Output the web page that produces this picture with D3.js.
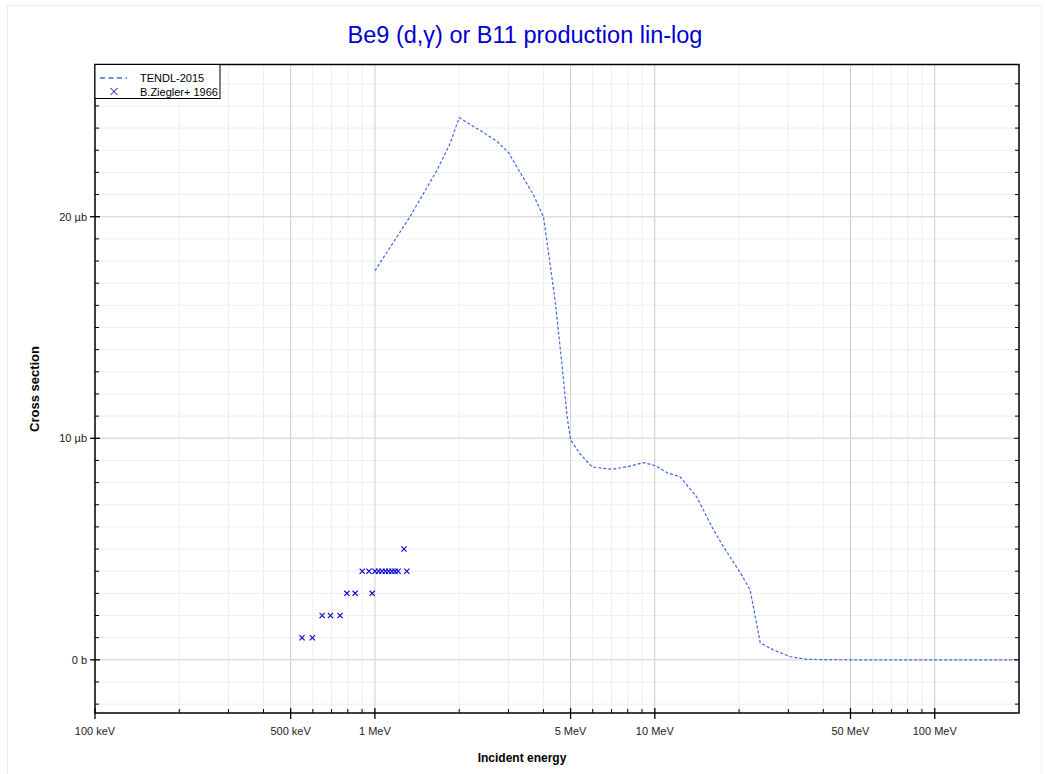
<!DOCTYPE html>
<html>
<head>
<meta charset="utf-8">
<script src="https://d3js.org/d3.v7.min.js"></script>
<style>
  body { margin: 0; background: #fff; font-family: "Liberation Sans", Arial, sans-serif; }
</style>
</head>
<body>
<script>
// TENDL-2015 evaluation, energy in MeV, cross section in microbarn
var tendlE = [1.0, 1.2, 1.334, 1.667, 1.855, 2.0, 2.44, 2.73, 3.0, 3.3, 3.68, 4.0,
              4.2, 4.4, 4.67, 4.86, 5.0, 5.4, 5.98, 7.05, 8.0, 9.1, 10.05, 11.1, 12.3,
              14.1, 16.2, 17.6, 20.2, 21.9, 23.8, 26.5, 30.5, 35, 50, 100, 200];
var tendlS = [17.56, 19.1, 20.0, 22.1, 23.3, 24.47, 23.8, 23.4, 22.9, 22.0, 21.0, 20.0,
              18.1, 16.25, 13.2, 10.97, 9.93, 9.3, 8.7, 8.6, 8.72, 8.9, 8.76, 8.44, 8.26,
              7.36, 5.87, 5.1, 3.93, 3.16, 0.77, 0.45, 0.14, 0.02, 0, 0, 0];

// B.Ziegler+ 1966 measurements
var expE = [0.549, 0.598, 0.648, 0.694, 0.751, 0.794, 0.850, 0.978, 0.901, 0.952,
            1.0, 1.03, 1.06, 1.09, 1.12, 1.15, 1.18, 1.21, 1.30, 1.27];
var expS = [1, 1, 2, 2, 2, 3, 3, 3, 4, 4,
            4, 4, 4, 4, 4, 4, 4, 4, 4, 5];

var xTickVals = [0.1, 0.5, 1, 5, 10, 50, 100];
var xTickText = ["100 keV", "500 keV", "1 MeV", "5 MeV", "10 MeV", "50 MeV", "100 MeV"];
var yTickVals = [0, 10, 20];
var yTickText = ["0 b", "10 µb", "20 µb"];

var W = 1045, H = 774;
var m = {left: 95, right: 1019, top: 64.5, bottom: 713};

var svg = d3.select("body").append("svg").attr("width", W).attr("height", H);

// outer frame
svg.append("rect").attr("x", 7.5).attr("y", 5.5).attr("width", 1034).attr("height", 780)
  .attr("fill", "none").attr("stroke", "#eeeeee").attr("stroke-width", 1);

var x = d3.scaleLog().domain([0.1, 200]).range([m.left, m.right]);
var y = d3.scaleLinear().domain([-2.4, 26.87]).range([m.bottom, m.top]);

// minor grid
var minorX = [];
[0.1, 1, 10, 100].forEach(function (d) {
  for (var k = 2; k <= 9; k++) { if (d * k < 200 && k !== 5) minorX.push(d * k); }
});
var minorY = d3.range(-2, 27, 1).filter(function (d) { return d % 10 !== 0; });

var grid = svg.append("g");
grid.selectAll(".mx").data(minorX).enter().append("line")
  .attr("x1", function (d) { return x(d); }).attr("x2", function (d) { return x(d); })
  .attr("y1", m.top).attr("y2", m.bottom).attr("stroke", "#eeeeee").attr("stroke-width", 1);
grid.selectAll(".my").data(minorY).enter().append("line")
  .attr("y1", function (d) { return y(d); }).attr("y2", function (d) { return y(d); })
  .attr("x1", m.left).attr("x2", m.right).attr("stroke", "#eeeeee").attr("stroke-width", 1);
grid.selectAll(".Mx").data(xTickVals.slice(1)).enter().append("line")
  .attr("x1", function (d) { return x(d); }).attr("x2", function (d) { return x(d); })
  .attr("y1", m.top).attr("y2", m.bottom).attr("stroke", "#cccccc").attr("stroke-width", 1);
grid.selectAll(".My").data(yTickVals).enter().append("line")
  .attr("y1", function (d) { return y(d); }).attr("y2", function (d) { return y(d); })
  .attr("x1", m.left).attr("x2", m.right).attr("stroke", "#dddddd").attr("stroke-width", 1.5);

// data: TENDL curve
var line = d3.line().x(function (d) { return x(d[0]); }).y(function (d) { return y(d[1]); });
svg.append("path").datum(d3.zip(tendlE, tendlS)).attr("d", line)
  .attr("fill", "none").attr("stroke", "#4169e1").attr("stroke-width", 1.2)
  .attr("stroke-dasharray", "3,2");

// data: experiment crosses
var s = 2.6;
svg.append("g").selectAll("path").data(d3.zip(expE, expS)).enter().append("path")
  .attr("d", function (d) {
    var cx = x(d[0]), cy = y(d[1]);
    return "M" + (cx - s) + "," + (cy - s) + "L" + (cx + s) + "," + (cy + s) +
           "M" + (cx - s) + "," + (cy + s) + "L" + (cx + s) + "," + (cy - s);
  })
  .attr("stroke", "#0000cc").attr("stroke-width", 1.1).attr("fill", "none");

// frame of plot
svg.append("rect").attr("x", m.left).attr("y", m.top)
  .attr("width", m.right - m.left).attr("height", m.bottom - m.top)
  .attr("fill", "none").attr("stroke", "#000").attr("stroke-width", 1.5);

// ticks
var ax = svg.append("g").attr("stroke", "#000");
minorX.forEach(function (d) {
  ax.append("line").attr("x1", x(d)).attr("x2", x(d)).attr("y1", m.bottom).attr("y2", m.bottom - 4);
});
xTickVals.forEach(function (d) {
  ax.append("line").attr("x1", x(d)).attr("x2", x(d)).attr("y1", m.bottom - 5).attr("y2", m.bottom + 6)
    .attr("stroke-width", 1.3);
});
minorY.forEach(function (d) {
  ax.append("line").attr("x1", m.left).attr("x2", m.left + 4).attr("y1", y(d)).attr("y2", y(d));
  ax.append("line").attr("x1", m.right).attr("x2", m.right - 4).attr("y1", y(d)).attr("y2", y(d));
});
yTickVals.forEach(function (d) {
  ax.append("line").attr("x1", m.left - 5).attr("x2", m.left + 5).attr("y1", y(d)).attr("y2", y(d))
    .attr("stroke-width", 1.3);
  ax.append("line").attr("x1", m.right).attr("x2", m.right - 5).attr("y1", y(d)).attr("y2", y(d));
});

// tick labels
svg.append("g").selectAll("text").data(xTickVals).enter().append("text")
  .attr("x", function (d) { return x(d); }).attr("y", m.bottom + 22)
  .attr("text-anchor", "middle").attr("font-size", 11).attr("fill", "#222")
  .text(function (d, i) { return xTickText[i]; });
svg.append("g").selectAll("text").data(yTickVals).enter().append("text")
  .attr("x", m.left - 8).attr("y", function (d) { return y(d) + 4; })
  .attr("text-anchor", "end").attr("font-size", 11).attr("fill", "#222")
  .text(function (d, i) { return yTickText[i]; });

// axis titles
svg.append("text").attr("x", 522).attr("y", 762)
  .attr("text-anchor", "middle").attr("font-size", 12).attr("font-weight", "bold")
  .text("Incident energy");
svg.append("text").attr("transform", "translate(39,389) rotate(-90)")
  .attr("text-anchor", "middle").attr("font-size", 13).attr("font-weight", "bold")
  .text("Cross section");

// title
svg.append("text").attr("x", 525).attr("y", 43)
  .attr("text-anchor", "middle").attr("font-size", 23.5).attr("fill", "#0000cc")
  .text("Be9 (d,γ) or B11 production lin-log");

// legend
var lg = svg.append("g");
lg.append("rect").attr("x", m.left).attr("y", m.top).attr("width", 125).attr("height", 34)
  .attr("fill", "#fff").attr("stroke", "#000").attr("stroke-width", 1);
lg.append("line").attr("x1", 100).attr("x2", 127).attr("y1", 78).attr("y2", 78)
  .attr("stroke", "#4169e1").attr("stroke-width", 1.5).attr("stroke-dasharray", "5,3.5");
lg.append("path").attr("d", "M110.5,88L117.5,95M110.5,95L117.5,88")
  .attr("stroke", "#0000cc").attr("stroke-width", 1).attr("fill", "none");
lg.append("text").attr("x", 140).attr("y", 82).attr("font-size", 11).text("TENDL-2015");
lg.append("text").attr("x", 140).attr("y", 96).attr("font-size", 11).text("B.Ziegler+ 1966");
</script>
</body>
</html>
